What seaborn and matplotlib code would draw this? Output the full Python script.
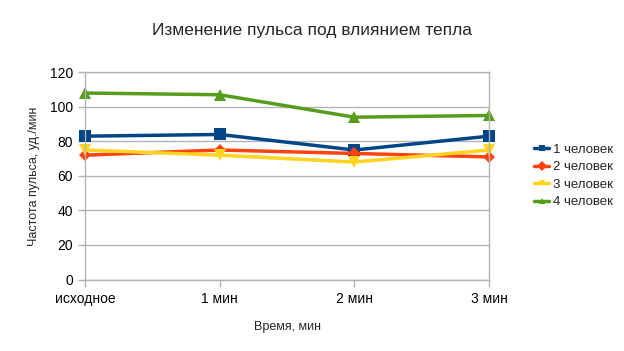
import matplotlib
matplotlib.use("Agg")
import matplotlib.pyplot as plt
import seaborn as sns
import pandas as pd

categories = ["исходное", "1 мин", "2 мин", "3 мин"]
series_names = ["1 человек", "2 человек", "3 человек", "4 человек"]
s1 = [83, 84, 75, 83]
s2 = [72, 75, 73, 71]
s3 = [75, 72, 68, 75]
s4 = [108, 107, 94, 95]
colors = ["#004586", "#ff420e", "#ffd320", "#579d1c"]
markers = ["s", "D", "v", "^"]
msizes = [8, 6, 8, 8]

sns.set_theme(style="white")
plt.rcParams['font.family'] = ['Liberation Sans', 'DejaVu Sans']

rows = []
for name, vals in zip(series_names, [s1, s2, s3, s4]):
    for i, (c, v) in enumerate(zip(categories, vals)):
        rows.append({"x": i, "cat": c, "value": v, "series": name})
df = pd.DataFrame(rows)

fig = plt.figure(figsize=(6.24, 3.51), dpi=100)
ax = fig.add_axes([85/624, 1 - 279.5/351, (489-85)/624, (279.5-72.3)/351])

for name, col, mk, ms in zip(series_names, colors, markers, msizes):
    sub = df[df["series"] == name]
    sns.lineplot(data=sub, x="x", y="value", ax=ax, color=col, marker=mk,
                 markersize=ms, markeredgewidth=0, linewidth=2.5, label=name,
                 clip_on=False)

ax.set_xlim(0, 3)
ax.set_ylim(0, 120)
ax.set_yticks(range(0, 121, 20))
ax.set_xticks(range(len(categories)))
ax.set_xticklabels(categories)
for sp in ax.spines.values():
    sp.set_color("#b3b3b3")
    sp.set_linewidth(1)
ax.yaxis.grid(True, color="#b3b3b3", linewidth=1)
ax.set_axisbelow(True)
ax.tick_params(axis="both", which="both", length=5, color="#b3b3b3", width=1,
               labelsize=10, colors="black", direction="out", bottom=True, left=True)
ax.tick_params(axis="x", pad=4)
for lbl in ax.get_xticklabels() + ax.get_yticklabels():
    lbl.set_color("black")

ax.set_xlabel("Время, мин", fontsize=9, labelpad=11)
ax.set_ylabel("Частота пульса, уд./мин", fontsize=9, labelpad=7)
fig.text(0.5, 1 - 30/351, "Изменение пульса под влиянием тепла", ha="center",
         va="center", fontsize=12.5)

leg = ax.legend(loc="center left", bbox_to_anchor=(527/624, 175/351),
                bbox_transform=fig.transFigure, frameon=False, fontsize=9.5,
                handlelength=1.2, handletextpad=0.3, labelspacing=0.4,
                borderpad=0)
for h in leg.get_lines():
    h.set_markersize(5)
    h.set_linewidth(2.5)

fig.savefig("out.png", dpi=100)
